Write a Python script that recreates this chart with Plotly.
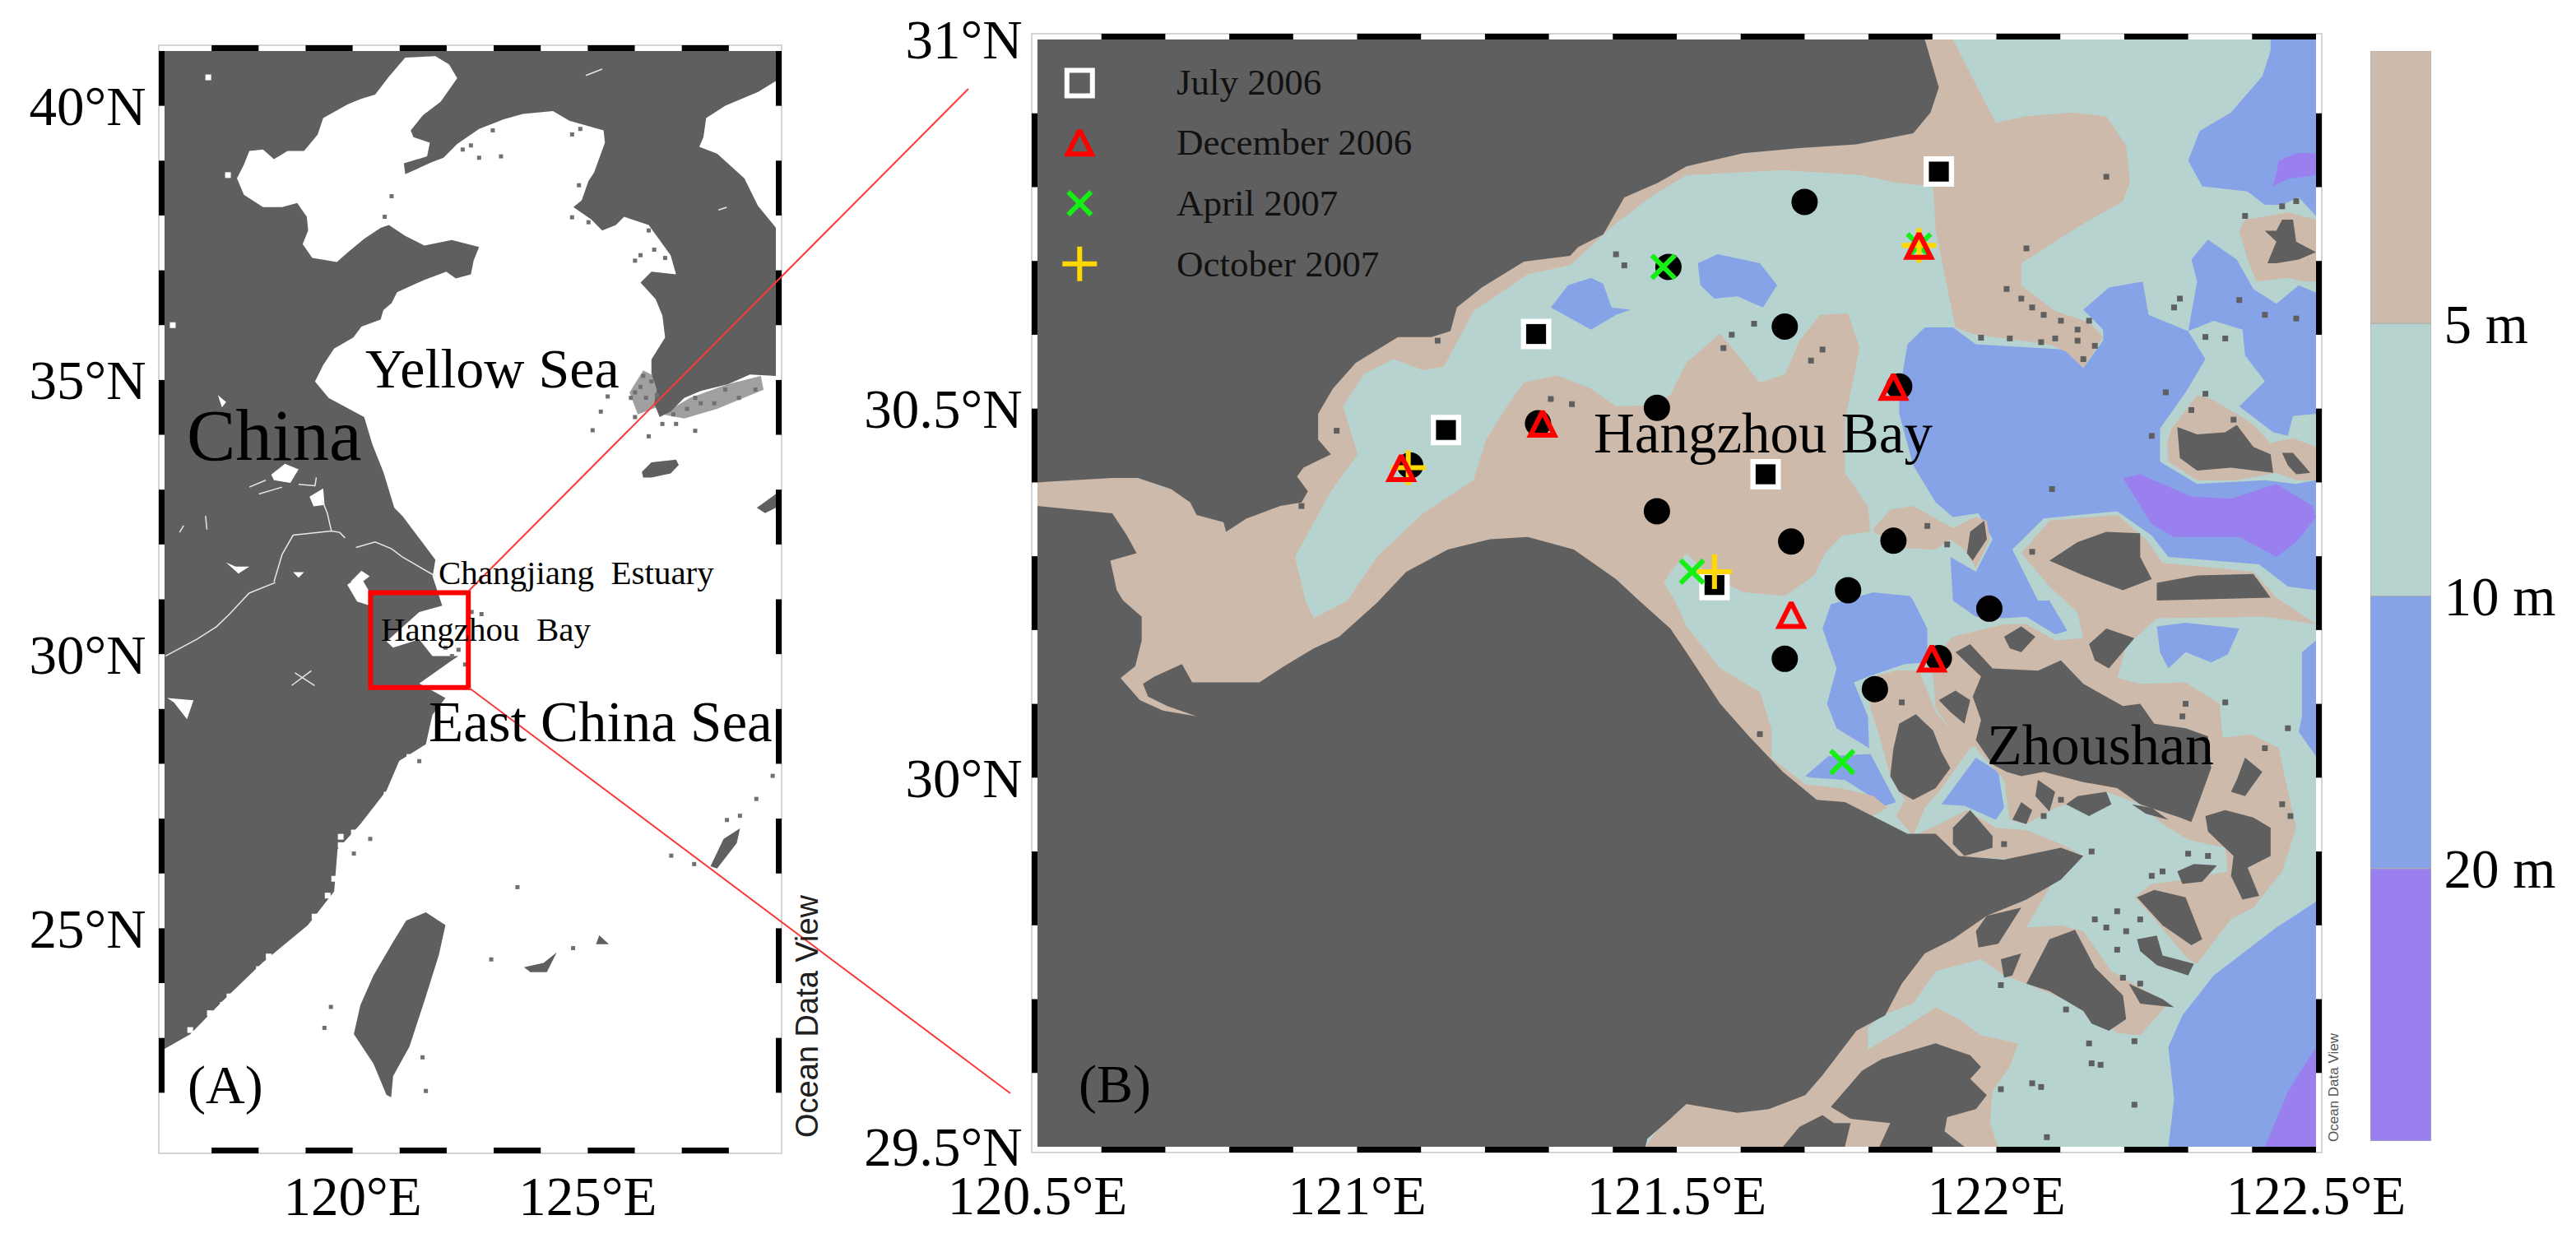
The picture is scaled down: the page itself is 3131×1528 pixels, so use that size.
"""Study area map: East China Sea overview (A) and Hangzhou Bay depth map with stations (B)"""
import plotly.graph_objects as go

W, H = 3131, 1528
LAND = '#5F5F5F'
BEIGE = '#CDBAAB'
TEAL = '#B7D3CF'
BLUE = '#87A3E8'
PURPLE = '#9A80EE'
SERIF = 'Liberation Serif'

# ---------- panel A, coastlines as (lon, lat) ----------
china_korea = [(129, 41), (129, 40.454), (128.623, 40.254), (127.925, 40.004), (127.518, 39.779), (127.46, 39.428),
               (127.372, 39.253), (127.75, 39.128), (128.33, 38.678), (128.62, 38.177), (129, 37.777), (129, 35.074),
               (128.449, 35.099), (127.983, 34.924), (127.402, 34.8), (127.052, 34.674), (126.762, 34.423),
               (126.529, 34.323), (126.412, 34.574), (126.47, 34.824), (126.354, 35.124), (126.354, 35.374),
               (126.645, 35.775), (126.587, 36.175), (126.442, 36.475), (126.122, 36.776), (126.354, 36.976),
               (126.878, 36.926), (126.762, 37.276), (126.471, 37.627), (126.296, 37.827), (125.773, 37.977),
               (125.598, 37.827), (125.307, 37.727), (125.075, 37.927), (124.696, 38.152), (124.871, 38.277),
               (125.016, 38.628), (125.133, 38.778), (125.365, 39.328), (125.336, 39.553), (124.609, 39.729),
               (124.26, 39.904), (123.62, 39.854), (123.213, 39.754), (122.689, 39.579), (122.224, 39.303),
               (121.933, 39.053), (121.7, 38.978), (121.119, 38.753), (121.09, 38.953), (121.584, 39.078),
               (121.642, 39.328), (121.293, 39.428), (121.235, 39.554), (121.497, 39.829), (121.875, 40.079),
               (122.224, 40.504), (122.05, 40.755), (121.759, 40.905), (121.119, 40.88), (120.77, 40.53),
               (120.479, 40.204), (120.188, 40.13), (119.897, 40.028), (119.374, 39.778), (119.257, 39.478),
               (118.967, 39.178), (118.617, 39.178), (118.327, 39.027), (118.094, 39.203), (117.803, 39.178),
               (117.687, 38.927), (117.541, 38.677), (117.687, 38.377), (118.094, 38.152), (118.501, 38.152),
               (118.821, 38.227), (119.025, 37.976), (119.054, 37.726), (118.937, 37.476), (119.141, 37.226),
               (119.665, 37.151), (119.897, 37.326), (120.246, 37.576), (120.595, 37.776), (120.77, 37.827),
               (121.119, 37.627), (121.526, 37.451), (122.108, 37.552), (122.689, 37.426), (122.573, 37.176),
               (122.515, 36.926), (122.195, 36.851), (121.991, 36.976), (121.526, 36.826), (120.944, 36.601),
               (120.828, 36.4), (120.653, 36.275), (120.595, 36.1), (120.188, 35.975), (120.014, 35.774),
               (119.606, 35.574), (119.374, 35.274), (119.199, 34.973), (119.49, 34.673), (120.246, 34.323),
               (120.421, 33.822), (120.654, 33.322), (120.886, 32.671), (121.06, 32.521), (121.76, 31.72),
               (121.7, 31.42), (121.905, 30.884), (121.417, 30.769), (120.72, 30.232), (120.861, 30.117),
               (121.417, 30.27), (121.696, 29.964), (122.25, 29.964), (122.113, 29.887), (121.417, 29.466),
               (121.974, 29.198), (121.696, 28.891), (121.557, 28.355), (120.99, 28.05), (120.72, 27.512),
               (120.165, 26.899), (119.678, 26.44), (119.608, 25.673), (119.05, 25.06), (118.077, 24.37),
               (117.241, 23.68), (116.546, 23.067), (116, 22.8), (116, 41)]
taiwan = [(121.557, 25.29), (121.974, 25.06), (121.835, 24.52), (121.557, 23.757), (121.208, 22.84), (120.86, 22.3),
          (120.82, 21.92), (120.72, 21.96), (120.443, 22.53), (120.026, 23.07), (120.165, 23.6), (120.443, 24.14),
          (120.86, 24.75), (121.14, 25.14)]
jeju = [(126.15, 33.32), (126.354, 33.498), (126.878, 33.548), (126.936, 33.448), (126.762, 33.297),
        (126.354, 33.222), (126.18, 33.222)]
kyushu = [(129, 32.92), (128.885, 32.846), (128.595, 32.671), (128.77, 32.571), (129, 32.671)]
ryukyu = [(128.237, 26.82), (127.889, 26.63), (127.61, 26.13), (127.75, 26.09), (128.168, 26.55)]
ishigaki = [(123.644, 24.29), (124.06, 24.37), (124.34, 24.56), (124.13, 24.2), (123.78, 24.2)]
miyako = [(125.245, 24.87), (125.45, 24.71), (125.175, 24.71)]
korea_sw_isles = [(125.889, 34.774), (126.18, 35.174), (126.529, 35.024), (126.529, 34.524), (126.063, 34.373)]
korea_s_isles = [(126.587, 34.373), (127.169, 34.674), (127.983, 34.924), (128.681, 35.074), (128.739, 34.824),
                 (127.75, 34.473), (127.052, 34.298)]
lakes = [
    [(118.268, 33.272), (118.559, 33.472), (118.85, 33.372), (118.676, 33.122), (118.327, 33.172)],
    [(119.083, 32.871), (119.374, 33.021), (119.403, 32.721), (119.17, 32.696)],
    [(117.134, 34.723), (117.309, 34.598), (117.221, 34.498)],
    [(117.309, 31.67), (117.571, 31.47), (117.803, 31.595), (117.512, 31.595)],
    [(118.734, 31.495), (118.967, 31.495), (118.85, 31.395)],
    [(119.955, 31.32), (120.188, 31.52), (120.363, 31.42), (120.13, 31.27)],
    [(119.886, 31.267), (120.165, 31.42), (120.373, 31.113), (120.373, 30.884), (120.095, 30.96)],
    [(116.059, 29.198), (116.616, 29.16), (116.477, 28.815), (116.198, 29.121)],
]
rivers = [
    [(118.327, 31.32), (118.501, 31.82), (118.734, 32.17), (119.548, 32.246), (119.723, 32.221), (119.839, 32.12)],
    [(119.548, 32.246), (119.461, 32.571), (119.345, 32.82)],
    [(120.072, 31.945), (120.479, 32.045), (120.828, 31.92), (121.06, 31.77), (121.765, 31.42)],
    [(118.85, 33.097), (119.199, 33.072), (119.228, 33.222)],
    [(116.017, 29.964), (116.685, 30.27), (117.103, 30.5), (117.381, 30.73), (117.799, 31.113), (118.356, 31.305)],
    [(118.704, 29.428), (119.121, 29.696)],
    [(118.773, 29.658), (119.191, 29.428)],
    [(117.803, 33.047), (118.152, 33.172)],
    [(118.007, 32.921), (118.501, 33.046)],
    [(116.32, 32.221), (116.407, 32.346)],
    [(116.872, 32.521), (116.901, 32.271)],
    [(124.959, 40.554), (125.307, 40.669)],
    [(127.78, 38.1), (127.954, 38.15)],
]
white_specks = [(119.747, 26.516), (120.026, 26.746), (121.0, 27.895), (121.209, 28.125), (119.678, 25.52),
                (119.469, 25.366), (119.19, 25.213), (118.495, 24.523), (118.216, 24.485), (117.381, 23.757),
                (116.964, 23.451), (116.546, 23.144), (116.93, 40.519), (117.349, 38.737), (116.174, 36.0),
                (119.747, 26.669), (119.886, 26.516), (119.469, 25.596), (119.608, 25.903), (118.773, 24.677),
                (119.051, 24.907), (118.008, 24.255), (117.242, 23.604), (120.93, 27.742), (120.722, 27.435),
                (120.443, 27.014)]
grey_specks_a = [(126.005, 34.774), (126.122, 34.874), (126.238, 34.674), (126.354, 34.974), (125.918, 34.674),
                 (126.18, 35.074), (126.47, 34.724), (126.005, 34.323), (126.587, 34.198), (126.878, 34.198),
                 (127.285, 34.073), (126.296, 33.973), (127.402, 34.574), (127.692, 34.574), (127.285, 34.674),
                 (128.216, 34.674), (128.565, 34.824), (127.925, 34.824), (127.111, 34.473), (126.82, 34.373),
                 (126.005, 37.176), (126.122, 37.276), (126.645, 37.226), (126.413, 37.376), (126.296, 37.727),
                 (124.667, 37.967), (125.016, 37.877), (124.813, 38.552), (124.842, 39.579), (124.667, 39.478),
                 (122.689, 39.053), (123.155, 39.078), (122.515, 39.278), (122.34, 39.203), (122.98, 39.553),
                 (120.682, 37.977), (120.828, 38.352), (125.424, 34.699), (125.104, 34.083), (125.278, 34.423),
                 (120.026, 26.363), (120.374, 26.63), (121.417, 28.048), (119.538, 23.566), (119.4, 23.183),
                 (123.505, 25.75), (121.557, 22.033), (126.776, 26.324), (127.263, 26.171), (128.933, 27.78),
                 (128.585, 27.359), (127.96, 26.975), (128.237, 27.052), (122.948, 24.432), (124.688, 24.638),
                 (121.487, 22.646), (121.974, 30.117), (122.252, 30.079), (122.113, 29.964), (122.392, 29.811),
                 (122.53, 30.769), (122.74, 30.73)]
zoom_box_lon = [120.38, 122.46]
zoom_box_lat = [29.39, 31.12]

# ---------- panel B, depth bands as (lon, lat) ----------
blue_main = [(121.848, 30.522), (121.861, 30.587), (121.888, 30.61), (121.932, 30.61), (121.968, 30.587),
             (122.109, 30.58), (122.136, 30.555), (122.167, 30.592), (122.167, 30.607), (122.136, 30.634),
             (122.176, 30.664), (122.229, 30.672), (122.238, 30.627), (122.3, 30.605), (122.327, 30.567),
             (122.296, 30.522), (122.256, 30.473), (122.256, 30.428), (122.314, 30.398), (122.42, 30.403),
             (122.469, 30.398), (122.5, 30.403), (122.5, 30.254), (122.456, 30.259), (122.411, 30.289),
             (122.269, 30.299), (122.243, 30.328), (122.189, 30.361), (122.074, 30.351), (122.025, 30.309),
             (122.065, 30.24), (122.083, 30.24), (122.111, 30.199), (122.092, 30.194), (122.047, 30.218),
             (122.012, 30.216), (121.968, 30.218), (121.932, 30.24), (121.928, 30.299), (121.968, 30.279),
             (121.994, 30.323), (121.972, 30.358), (121.932, 30.353), (121.905, 30.373), (121.87, 30.423),
             (121.848, 30.493)]
blue_patches = [
    [(122.305, 30.702), (122.331, 30.729), (122.376, 30.702), (122.402, 30.662), (122.438, 30.642), (122.473, 30.667),
     (122.5, 30.657), (122.5, 30.493), (122.464, 30.49), (122.456, 30.463), (122.433, 30.468), (122.38, 30.503),
     (122.42, 30.537), (122.389, 30.572), (122.385, 30.607), (122.34, 30.619), (122.3, 30.605), (122.314, 30.672)],
    [(122.429, 31.0), (122.5, 31.0), (122.5, 30.761), (122.473, 30.786), (122.447, 30.776), (122.42, 30.776),
     (122.393, 30.794), (122.322, 30.801), (122.3, 30.836), (122.318, 30.876), (122.367, 30.901), (122.416, 30.95),
     (122.429, 30.985)],
    [(121.533, 30.697), (121.564, 30.709), (121.63, 30.697), (121.657, 30.667), (121.635, 30.637), (121.595, 30.652),
     (121.559, 30.649), (121.537, 30.667)],
    [(121.303, 30.637), (121.33, 30.667), (121.366, 30.677), (121.385, 30.669), (121.398, 30.637), (121.428, 30.634),
     (121.405, 30.627), (121.366, 30.607)],
    [(121.728, 30.202), (121.741, 30.235), (121.808, 30.251), (121.865, 30.246), (121.87, 30.24), (121.892, 30.202),
     (121.892, 30.156), (121.857, 30.154), (121.799, 30.137), (121.777, 30.129), (121.799, 30.083), (121.801, 30.04),
     (121.75, 30.067), (121.735, 30.1), (121.75, 30.148)],
    [(121.701, 30.002), (121.737, 30.029), (121.803, 30.032), (121.843, 29.967), (121.826, 29.962), (121.763, 29.997),
     (121.71, 30.0)],
    [(121.914, 29.964), (121.968, 30.027), (122.003, 30.008), (122.012, 29.959), (121.999, 29.943), (121.95, 29.962)],
    [(122.251, 30.205), (122.296, 30.21), (122.38, 30.202), (122.362, 30.167), (122.336, 30.156), (122.296, 30.17),
     (122.269, 30.148), (122.256, 30.17)],
    [(122.5, 30.186), (122.478, 30.17), (122.478, 30.083), (122.473, 30.062), (122.5, 30.029)],
    [(122.269, 29.5), (122.278, 29.565), (122.269, 29.635), (122.291, 29.678), (122.34, 29.732), (122.438, 29.797),
     (122.5, 29.832), (122.5, 29.5)],
]
purple_patches = [
    [(122.442, 30.836), (122.469, 30.846), (122.5, 30.846), (122.5, 30.816), (122.456, 30.811), (122.433, 30.801)],
    [(122.42, 29.5), (122.456, 29.575), (122.5, 29.635), (122.5, 29.5)],
    [(122.198, 30.406), (122.225, 30.411), (122.305, 30.381), (122.367, 30.378), (122.438, 30.398), (122.495, 30.368),
     (122.5, 30.353), (122.469, 30.319), (122.438, 30.299), (122.38, 30.326), (122.278, 30.326), (122.243, 30.343)],
]
beige_main = [(120.5, 30.41), (121.0, 30.65), (121.5, 30.9), (121.888, 31.0), (121.932, 31.0), (121.999, 30.887),
              (122.047, 30.896), (122.118, 30.901), (122.172, 30.896), (122.203, 30.856), (122.209, 30.806),
              (122.198, 30.781), (122.127, 30.746), (122.039, 30.697), (122.039, 30.667), (122.092, 30.632),
              (122.145, 30.617), (122.167, 30.597), (122.136, 30.555), (122.109, 30.577), (122.083, 30.587),
              (121.968, 30.6), (121.936, 30.61), (121.905, 30.741), (121.901, 30.801), (121.843, 30.806),
              (121.79, 30.816), (121.666, 30.823), (121.515, 30.816), (121.458, 30.786), (121.405, 30.751),
              (121.333, 30.694), (121.267, 30.682), (121.182, 30.632), (121.136, 30.557), (121.103, 30.552),
              (121.057, 30.567), (121.011, 30.547), (120.978, 30.503), (121.001, 30.438), (120.959, 30.388),
              (120.903, 30.299), (120.919, 30.24), (120.932, 30.216), (120.985, 30.24), (121.031, 30.299),
              (121.103, 30.358), (121.182, 30.403), (121.202, 30.458), (121.234, 30.503), (121.261, 30.535),
              (121.313, 30.545), (121.366, 30.527), (121.405, 30.503), (121.451, 30.505), (121.49, 30.518),
              (121.515, 30.562), (121.568, 30.602), (121.63, 30.535), (121.67, 30.547), (121.692, 30.592),
              (121.724, 30.627), (121.768, 30.629), (121.786, 30.582), (121.763, 30.483), (121.763, 30.413),
              (121.799, 30.368), (121.803, 30.333), (121.759, 30.328), (121.732, 30.304), (121.715, 30.274),
              (121.669, 30.246), (121.605, 30.251), (121.55, 30.274), (121.515, 30.304), (121.49, 30.279),
              (121.48, 30.264), (121.497, 30.24), (121.515, 30.205), (121.568, 30.148), (121.63, 30.116),
              (121.648, 30.067), (121.648, 30.027), (121.701, 29.991), (121.755, 29.986), (121.808, 29.975),
              (121.83, 29.959), (121.7, 29.9), (121.3, 30.1), (120.8, 30.06), (120.6, 30.1), (120.5, 30.36)]
beige_patches = [
    [(122.38, 30.741), (122.389, 30.756), (122.411, 30.759), (122.456, 30.766), (122.5, 30.756), (122.5, 30.672),
     (122.482, 30.672), (122.456, 30.677), (122.407, 30.672), (122.393, 30.702)],
    [(122.274, 30.473), (122.314, 30.518), (122.336, 30.513), (122.376, 30.493), (122.402, 30.478), (122.429, 30.453),
     (122.464, 30.46), (122.5, 30.448), (122.5, 30.403), (122.469, 30.403), (122.438, 30.413), (122.376, 30.403),
     (122.314, 30.403), (122.269, 30.428), (122.267, 30.453)],
    [(121.808, 30.338), (121.834, 30.363), (121.87, 30.368), (121.932, 30.338), (121.968, 30.353), (121.985, 30.348),
     (121.99, 30.323), (121.968, 30.284), (121.95, 30.309), (121.928, 30.323), (121.905, 30.309), (121.852, 30.311),
     (121.808, 30.333)],
    [(122.039, 30.304), (122.083, 30.348), (122.189, 30.356), (122.234, 30.323), (122.26, 30.291), (122.402, 30.279),
     (122.438, 30.244), (122.5, 30.208), (122.42, 30.218), (122.251, 30.216), (122.203, 30.178), (122.189, 30.135),
     (122.225, 30.127), (122.296, 30.129), (122.349, 30.1), (122.354, 30.054), (122.398, 30.059), (122.442, 30.04),
     (122.456, 29.981), (122.469, 29.932), (122.447, 29.873), (122.402, 29.824), (122.367, 29.808), (122.314, 29.748),
     (122.3, 29.754), (122.243, 29.813), (122.216, 29.838), (122.243, 29.856), (122.296, 29.862), (122.362, 29.873),
     (122.358, 29.905), (122.3, 29.916), (122.26, 29.937), (122.225, 29.964), (122.172, 29.981), (122.092, 29.959),
     (122.047, 29.937), (122.021, 29.943), (122.012, 29.997), (121.968, 30.04), (121.959, 30.078), (121.941, 30.175),
     (121.932, 30.191), (122.012, 30.208), (122.047, 30.208), (122.092, 30.186), (122.136, 30.189), (122.127, 30.224),
     (122.083, 30.259)],
    [(121.799, 30.135), (121.843, 30.145), (121.879, 30.145), (121.905, 30.089), (121.932, 30.062), (121.959, 30.04),
     (121.91, 29.981), (121.888, 29.959), (121.87, 29.921), (121.843, 29.948), (121.857, 29.97), (121.834, 30.002),
     (121.817, 30.056), (121.803, 30.094)],
    [(121.897, 30.159), (121.932, 30.191), (121.95, 30.159), (121.976, 30.121), (121.985, 30.078), (121.976, 30.046),
     (121.959, 30.04), (121.932, 30.062), (121.905, 30.094), (121.901, 30.137)],
    [(121.87, 29.921), (121.905, 29.935), (121.954, 29.956), (121.999, 29.932), (122.047, 29.929), (122.101, 29.91),
     (122.136, 29.894), (122.047, 29.889), (121.914, 29.894)],
    [(122.092, 29.865), (122.047, 29.797), (122.101, 29.8), (122.136, 29.792), (122.18, 29.738), (122.269, 29.694),
     (122.225, 29.651), (122.189, 29.654), (122.136, 29.689), (122.047, 29.721), (122.012, 29.732), (121.976, 29.754),
     (121.905, 29.738), (121.87, 29.694), (121.821, 29.678), (121.799, 29.662), (121.799, 29.632), (121.843, 29.654),
     (121.905, 29.689), (121.941, 29.673), (121.976, 29.651), (122.034, 29.64), (122.021, 29.608), (121.994, 29.576),
     (121.99, 29.532), (122.003, 29.5), (121.451, 29.5), (121.5, 29.56), (121.7, 29.6), (121.8, 29.72), (121.9, 29.8),
     (122.05, 29.84)],
]
land_north = [(120.5, 31.0), (120.5, 30.4), (120.617, 30.406), (120.657, 30.406), (120.709, 30.391), (120.739, 30.373),
              (120.749, 30.356), (120.791, 30.346), (120.795, 30.333), (120.827, 30.351), (120.88, 30.368),
              (120.913, 30.373), (120.923, 30.388), (120.906, 30.408), (120.916, 30.42), (120.959, 30.438),
              (120.939, 30.458), (120.939, 30.493), (120.962, 30.527), (120.998, 30.562), (121.064, 30.597),
              (121.116, 30.597), (121.146, 30.605), (121.156, 30.637), (121.195, 30.664), (121.261, 30.699),
              (121.333, 30.707), (121.346, 30.719), (121.385, 30.736), (121.418, 30.786), (121.471, 30.806),
              (121.515, 30.828), (121.604, 30.846), (121.692, 30.853), (121.781, 30.858), (121.87, 30.873),
              (121.897, 30.901), (121.91, 30.935), (121.888, 31.0)]
land_south = [(120.5, 30.368), (120.617, 30.358), (120.64, 30.328), (120.655, 30.304), (120.614, 30.294),
              (120.624, 30.254), (120.634, 30.24), (120.663, 30.218), (120.663, 30.186), (120.653, 30.151),
              (120.63, 30.135), (120.66, 30.105), (120.696, 30.091), (120.749, 30.083), (120.703, 30.097),
              (120.673, 30.11), (120.665, 30.127), (120.683, 30.137), (120.726, 30.154), (120.742, 30.129),
              (120.847, 30.129), (120.886, 30.151), (120.932, 30.175), (120.972, 30.191), (121.031, 30.237),
              (121.077, 30.279), (121.142, 30.309), (121.208, 30.323), (121.267, 30.326), (121.339, 30.309),
              (121.405, 30.269), (121.441, 30.24), (121.49, 30.202), (121.515, 30.17), (121.568, 30.1),
              (121.613, 30.056), (121.666, 30.008), (121.719, 29.97), (121.763, 29.967), (121.817, 29.943),
              (121.861, 29.924), (121.905, 29.924), (121.941, 29.894), (122.012, 29.889), (122.101, 29.905),
              (122.136, 29.894), (122.101, 29.862), (122.047, 29.835), (121.985, 29.813), (121.932, 29.781),
              (121.888, 29.762), (121.852, 29.721), (121.826, 29.678), (121.781, 29.657), (121.728, 29.597),
              (121.701, 29.57), (121.644, 29.551), (121.595, 29.546), (121.515, 29.558), (121.49, 29.538),
              (121.454, 29.511), (121.451, 29.5), (120.5, 29.5)]
islands = [
    [(121.936, 30.17), (121.959, 30.181), (121.994, 30.148), (122.065, 30.145), (122.101, 30.159), (122.136, 30.127),
     (122.198, 30.097), (122.225, 30.1), (122.247, 30.073), (122.296, 30.067), (122.331, 30.056), (122.336, 30.013),
     (122.318, 29.97), (122.305, 29.94), (122.287, 29.946), (122.225, 29.964), (122.189, 29.986), (122.136, 29.994),
     (122.074, 30.008), (122.039, 30.002), (122.016, 30.008), (121.994, 30.018), (121.968, 30.051), (121.976, 30.078),
     (121.963, 30.11), (121.976, 30.137)],
    [(121.839, 30.04), (121.848, 30.073), (121.874, 30.086), (121.901, 30.064), (121.914, 30.035), (121.928, 30.013),
     (121.905, 29.986), (121.87, 29.97), (121.848, 29.981), (121.834, 30.002)],
    [(121.91, 30.105), (121.936, 30.118), (121.959, 30.105), (121.95, 30.073), (121.928, 30.089)],
    [(121.932, 29.932), (121.959, 29.956), (121.994, 29.921), (121.994, 29.905), (121.95, 29.894), (121.932, 29.91)],
    [(122.012, 30.191), (122.039, 30.205), (122.061, 30.191), (122.039, 30.17), (122.021, 30.175)],
    [(122.145, 30.181), (122.172, 30.202), (122.216, 30.189), (122.176, 30.148), (122.154, 30.159)],
    [(122.376, 29.997), (122.389, 30.027), (122.416, 30.008), (122.389, 29.975), (122.367, 29.981)],
    [(122.327, 29.948), (122.358, 29.956), (122.402, 29.946), (122.429, 29.932), (122.429, 29.894), (122.393, 29.878),
     (122.411, 29.84), (122.385, 29.835), (122.367, 29.867), (122.371, 29.894), (122.331, 29.927)],
    [(122.283, 29.873), (122.309, 29.883), (122.345, 29.881), (122.322, 29.859), (122.291, 29.856)],
    [(122.22, 29.838), (122.247, 29.848), (122.296, 29.838), (122.322, 29.781), (122.305, 29.773), (122.26, 29.8)],
    [(122.22, 29.781), (122.251, 29.786), (122.26, 29.759), (122.309, 29.748), (122.3, 29.732), (122.251, 29.746),
     (122.225, 29.765)],
    [(121.968, 29.792), (121.985, 29.813), (122.039, 29.824), (122.003, 29.775), (121.972, 29.77)],
    [(122.047, 29.721), (122.083, 29.781), (122.123, 29.794), (122.154, 29.743), (122.198, 29.705), (122.203, 29.673),
     (122.176, 29.657), (122.149, 29.667), (122.136, 29.684), (122.083, 29.711)],
    [(122.025, 29.943), (122.039, 29.967), (122.056, 29.956), (122.047, 29.937)],
    [(122.065, 29.997), (122.092, 29.981), (122.083, 29.954), (122.061, 29.975)],
    [(122.127, 29.975), (122.172, 29.981), (122.18, 29.964), (122.145, 29.948), (122.109, 29.964)],
    [(122.212, 29.964), (122.243, 29.959), (122.269, 29.943), (122.234, 29.951)],
    [(122.007, 29.754), (122.039, 29.762), (122.025, 29.732), (122.012, 29.729)],
    [(122.207, 29.721), (122.26, 29.7), (122.278, 29.689), (122.225, 29.694)],
    [(121.741, 29.554), (121.79, 29.603), (121.821, 29.619), (121.905, 29.64), (121.959, 29.624), (121.976, 29.608),
     (121.959, 29.592), (121.985, 29.57), (121.968, 29.551), (121.923, 29.54), (121.919, 29.521), (121.95, 29.5),
     (121.817, 29.5), (121.834, 29.532), (121.772, 29.538)],
    [(121.666, 29.5), (121.692, 29.527), (121.728, 29.543), (121.746, 29.532), (121.772, 29.532), (121.763, 29.5)],
    [(122.42, 30.741), (122.438, 30.741), (122.447, 30.756), (122.464, 30.756), (122.469, 30.726), (122.5, 30.712),
     (122.473, 30.702), (122.438, 30.697), (122.424, 30.697), (122.429, 30.707), (122.438, 30.726)],
    [(122.283, 30.475), (122.314, 30.465), (122.358, 30.468), (122.376, 30.478), (122.402, 30.448), (122.429, 30.438),
     (122.433, 30.413), (122.367, 30.42), (122.314, 30.416), (122.287, 30.433)],
    [(122.447, 30.44), (122.464, 30.44), (122.491, 30.413), (122.469, 30.411), (122.456, 30.423)],
    [(122.083, 30.294), (122.127, 30.319), (122.172, 30.333), (122.225, 30.331), (122.225, 30.299), (122.243, 30.269),
     (122.198, 30.254), (122.136, 30.274)],
    [(122.251, 30.264), (122.314, 30.274), (122.402, 30.276), (122.429, 30.244), (122.251, 30.24)],
    [(121.954, 30.304), (121.959, 30.333), (121.981, 30.348), (121.985, 30.323), (121.963, 30.294)],
]
specks_b = [(122.016, 30.662), (122.039, 30.649), (122.056, 30.637), (122.074, 30.627), (122.101, 30.619),
            (122.127, 30.607), (122.145, 30.619), (121.976, 30.596), (122.021, 30.595), (122.07, 30.59),
            (122.092, 30.595), (122.127, 30.592), (122.154, 30.585), (122.136, 30.567), (122.287, 30.649),
            (122.278, 30.637), (122.265, 30.522), (122.327, 30.52), (122.38, 30.647), (122.42, 30.627),
            (122.469, 30.622), (122.327, 30.597), (122.358, 30.595), (122.047, 30.717), (122.172, 30.814),
            (122.087, 30.391), (121.621, 30.615), (121.728, 30.58), (121.71, 30.565), (121.573, 30.582),
            (121.586, 30.6), (122.389, 30.761), (122.447, 30.774), (122.469, 30.781), (121.892, 30.341),
            (121.923, 30.316), (122.305, 30.498), (122.371, 30.485), (122.243, 30.463), (122.056, 30.306),
            (121.418, 30.694), (121.405, 30.709), (121.126, 30.592), (120.968, 30.47), (121.303, 30.513),
            (121.336, 30.506), (120.913, 30.368), (122.154, 29.808), (122.172, 29.797), (122.189, 29.819),
            (122.203, 29.792), (122.225, 29.808), (122.189, 29.767), (122.145, 29.64), (122.149, 29.613),
            (122.163, 29.611), (122.056, 29.586), (122.07, 29.581), (122.216, 29.557), (122.079, 29.513),
            (122.007, 29.578), (122.149, 29.9), (122.3, 29.897), (122.331, 29.894), (122.243, 29.867),
            (122.26, 29.873), (122.216, 29.643), (122.109, 29.686), (122.007, 29.719), (122.198, 29.729),
            (122.225, 29.721), (122.456, 30.067), (122.358, 30.102), (121.852, 30.102), (121.63, 30.059),
            (121.976, 29.905), (122.012, 29.91), (122.074, 29.948), (122.101, 29.97), (122.154, 29.959),
            (122.291, 30.083), (122.296, 30.1), (122.42, 30.04), (122.447, 29.964), (122.46, 29.948)]

# ---------- stations ----------
circle_lon = [121.469, 121.469, 121.7, 121.669, 121.679, 121.839, 121.768, 121.989, 121.669, 121.81, 121.487, 121.083,
              121.283, 121.848, 121.91]
circle_lat = [30.501, 30.361, 30.78, 30.611, 30.32, 30.321, 30.254, 30.229, 30.161, 30.12, 30.692, 30.423, 30.48,
              30.53, 30.162]
july_lon = [121.28, 121.139, 121.91, 121.639, 121.559]
july_lat = [30.601, 30.471, 30.821, 30.411, 30.261]
december_lon = [121.069, 121.29, 121.839, 121.899, 121.679, 121.879]
december_lat = [30.42, 30.48, 30.53, 30.162, 30.221, 30.721]
april_lon = [121.479, 121.524, 121.759, 121.879]
april_lat = [30.692, 30.279, 30.021, 30.721]
october_lon = [121.08, 121.559, 121.879]
october_lat = [30.42, 30.279, 30.721]
key_names = ['July 2006', 'December 2006', 'April 2007', 'October 2007']
key_lon = [120.566, 120.566, 120.566, 120.566]
key_lat = [30.941, 30.861, 30.778, 30.696]

# ---------- depth key ----------
band_names = ['<5 m', '5-10 m', '10-20 m', '>20 m']
band_colors = [BEIGE, TEAL, BLUE, PURPLE]
band_base = [0, 1, 2, 3]
band_ticks = [1, 2, 3]
band_labels = ['5 m', '10 m', '20 m']


def px_x(x):
    return x / W


def px_y(y):
    return 1 - y / H


fig = go.Figure()


def poly(pts, color, xa, ya):
    fig.add_trace(go.Scatter(x=[p[0] for p in pts], y=[p[1] for p in pts], mode='lines', fill='toself',
                             fillcolor=color, line=dict(width=0), xaxis=xa, yaxis=ya,
                             hoverinfo='skip', showlegend=False))


def line(pts, color, width, xa, ya):
    fig.add_trace(go.Scatter(x=[p[0] for p in pts], y=[p[1] for p in pts], mode='lines',
                             line=dict(color=color, width=width), xaxis=xa, yaxis=ya,
                             hoverinfo='skip', showlegend=False))


def dots(lon, lat, symbol, size, color, lw, xa='x2', ya='y2', name=None):
    fig.add_trace(go.Scatter(x=lon, y=lat, mode='markers', name=name, xaxis=xa, yaxis=ya, showlegend=False,
                             marker=dict(symbol=symbol, size=size, color=color,
                                         line=dict(width=lw, color=color))))


def triangles(lon, lat, color, width, name=None):
    # plotly's triangle symbol is too flat here, so the outline goes through the axes instead
    dx, dy = 14.5 / 777.25, 14.5 / 897.3
    xs, ys = [], []
    for lo, la in zip(lon, lat):
        xs += [lo - dx, lo + dx, lo, lo - dx, lo + 0.3 * dx, None]
        ys += [la - dy, la - dy, la + dy, la - dy, la - dy, None]
    fig.add_trace(go.Scatter(x=xs, y=ys, mode='lines', name=name, line=dict(color=color, width=width),
                             xaxis='x2', yaxis='y2', showlegend=False))


# panel A
for p in [korea_sw_isles, korea_s_isles]:
    poly(p, '#A0A0A0', 'x', 'y')
for p in [china_korea, taiwan, jeju, kyushu, ryukyu, ishigaki, miyako]:
    poly(p, LAND, 'x', 'y')
for p in lakes:
    poly(p, 'white', 'x', 'y')
for p in rivers:
    line(p, '#E8E8E8', 1.5, 'x', 'y')
dots([p[0] for p in white_specks], [p[1] for p in white_specks], 'square', 7, 'white', 0, 'x', 'y')
dots([p[0] for p in grey_specks_a], [p[1] for p in grey_specks_a], 'square', 5, '#707070', 0, 'x', 'y')

# panel B, layered: shallow water and land go over the deeper bands
poly([(120.5, 29.5), (122.5, 29.5), (122.5, 31), (120.5, 31)], TEAL, 'x2', 'y2')
poly(blue_main, BLUE, 'x2', 'y2')
for p in blue_patches:
    poly(p, BLUE, 'x2', 'y2')
for p in purple_patches:
    poly(p, PURPLE, 'x2', 'y2')
poly(beige_main, BEIGE, 'x2', 'y2')
for p in beige_patches:
    poly(p, BEIGE, 'x2', 'y2')
poly(land_north, LAND, 'x2', 'y2')
poly(land_south, LAND, 'x2', 'y2')
for p in islands:
    poly(p, LAND, 'x2', 'y2')
dots([p[0] for p in specks_b], [p[1] for p in specks_b], 'square', 7, LAND, 0)

# stations and their key
dots(circle_lon, circle_lat, 'circle', 32, 'black', 0)
dots(july_lon, july_lat, 'square', 24, 'black', 0)
dots(july_lon + key_lon[:1], july_lat + key_lat[:1], 'square-open', 31, 'white', 6, name=key_names[0])
dots(april_lon + key_lon[2:3], april_lat + key_lat[2:3], 'x-thin-open', 28, '#14F014', 6, name=key_names[2])
dots(october_lon + key_lon[3:], october_lat + key_lat[3:], 'cross-thin-open', 30, '#FFD800', 6, name=key_names[3])
triangles(december_lon + key_lon[1:2], december_lat + key_lat[1:2], '#FF0000', 6, name=key_names[1])

# depth key
fig.add_trace(go.Bar(x=[0, 0, 0, 0], y=[1, 1, 1, 1], base=band_base, width=1, text=None, customdata=band_names,
                     marker=dict(color=band_colors, line=dict(width=1, color='#A9B0AC')),
                     xaxis='x3', yaxis='y3', showlegend=False))

shapes = []


def frame(xa, ya, lon0, lon1, lat0, lat1, step, first_black_lon, first_black_lat, box):
    l, t, r, b, gap = box
    shapes.append(dict(type='rect', xref='paper', yref='paper', x0=px_x(l - gap), x1=px_x(r + gap),
                       y0=px_y(b + gap), y1=px_y(t - gap), line=dict(color='#D4D4D4', width=2),
                       fillcolor='white', layer='below'))
    v = first_black_lon
    while v < lon1 - step / 2:
        for y0, y1 in [(b, b + gap), (t - gap, t)]:
            shapes.append(dict(type='rect', xref=xa, yref='paper', x0=v, x1=v + step, y0=px_y(y0), y1=px_y(y1),
                               fillcolor='black', line=dict(width=0)))
        v += 2 * step
    v = first_black_lat
    while v > lat0 + step / 2:
        for x0, x1 in [(l - gap, l), (r, r + gap)]:
            shapes.append(dict(type='rect', xref='paper', yref=ya, x0=px_x(x0), x1=px_x(x1), y0=v, y1=v - step,
                               fillcolor='black', line=dict(width=0)))
        v -= 2 * step


frame('x', 'y', 116, 129, 21, 41, 1, 117, 41, (200, 62, 943, 1395, 7))
frame('x2', 'y2', 120.5, 122.5, 29.5, 31, 0.1, 120.6, 30.9, (1261, 48, 2815, 1394, 7))

# zoom box and the lines leading to panel B
shapes.append(dict(type='rect', xref='x', yref='y', x0=zoom_box_lon[0], x1=zoom_box_lon[1], y0=zoom_box_lat[0],
                   y1=zoom_box_lat[1], line=dict(color='#FF0000', width=6)))
shapes.append(dict(type='line', xref='paper', yref='paper', x0=px_x(570), y0=px_y(718), x1=px_x(1177), y1=px_y(108),
                   line=dict(color='#FF3838', width=2)))
shapes.append(dict(type='line', xref='paper', yref='paper', x0=px_x(570), y0=px_y(836), x1=px_x(1228), y1=px_y(1329),
                   line=dict(color='#FF3838', width=2)))


def label(text, x, y, size, anchor='center', font=SERIF, color='black', angle=0):
    return dict(text=text, x=px_x(x), y=px_y(y), xref='paper', yref='paper', showarrow=False, xanchor=anchor,
                yanchor='middle', textangle=angle, font=dict(family=font, size=size, color=color))


notes = [
    label('China', 333, 529, 89),
    label('Yellow Sea', 598, 448, 68),
    label('Changjiang&nbsp;&nbsp;Estuary', 700, 696, 41),
    label('Hangzhou&nbsp;&nbsp;Bay', 591, 765, 41),
    label('East China Sea', 730, 878, 69),
    label('(A)', 274, 1319, 66),
    label('(B)', 1355, 1318, 66),
    label('Ocean Data View', 981, 1235, 38, font='Liberation Sans', color='#202020', angle=-90),
    label('Ocean Data View', 2836, 1322, 17, font='Liberation Sans', color='#555555', angle=-90),
    label('Hangzhou Bay', 2143, 527, 69),
    label('Zhoushan', 2553, 906, 70),
]
for name, y in zip(key_names, [100, 173, 247, 321]):
    notes.append(label(name, 1428, y, 45, anchor='left', color='#111111'))

tick_font = dict(family=SERIF, size=67, color='black')
hide = dict(ticks='outside', tickcolor='rgba(0,0,0,0)', tickwidth=1, showgrid=False, zeroline=False,
            showline=False, tickfont=tick_font, automargin=False)

fig.update_layout(
    width=W, height=H, margin=dict(l=0, r=0, t=0, b=0), paper_bgcolor='white', plot_bgcolor='white',
    showlegend=False, shapes=shapes, annotations=notes,
    xaxis=dict(domain=[px_x(200), px_x(943)], range=[116, 129], anchor='y', tickmode='array', tickvals=[120, 125],
               ticktext=['120°E', '125°E'], ticklen=1, **hide),
    yaxis=dict(domain=[px_y(1395), px_y(62)], range=[21, 41], anchor='x', tickmode='array',
               tickvals=[25, 30, 35, 40], ticktext=['25°N', '30°N', '35°N', '40°N'], ticklen=8, **hide),
    xaxis2=dict(domain=[px_x(1261), px_x(2815)], range=[120.5, 122.5], anchor='y2', tickmode='array',
                tickvals=[120.5, 121, 121.5, 122, 122.5],
                ticktext=['120.5°E', '121°E', '121.5°E', '122°E', '122.5°E'], ticklen=1, **hide),
    yaxis2=dict(domain=[px_y(1394), px_y(48)], range=[29.5, 31], anchor='x2', tickmode='array',
                tickvals=[29.5, 30, 30.5, 31], ticktext=['29.5°N', '30°N', '30.5°N', '31°N'], ticklen=4, **hide),
    xaxis3=dict(domain=[px_x(2881), px_x(2955)], range=[-0.5, 0.5], anchor='y3', visible=False, automargin=False),
    yaxis3=dict(domain=[px_y(1387), px_y(62)], range=[4, 0], anchor='x3', side='right', tickmode='array',
                tickvals=band_ticks, ticktext=band_labels, ticklen=1, **hide),
)

fig.write_html("out.html", config={'displayModeBar': False}, post_script="document.body.style.margin='0';")
